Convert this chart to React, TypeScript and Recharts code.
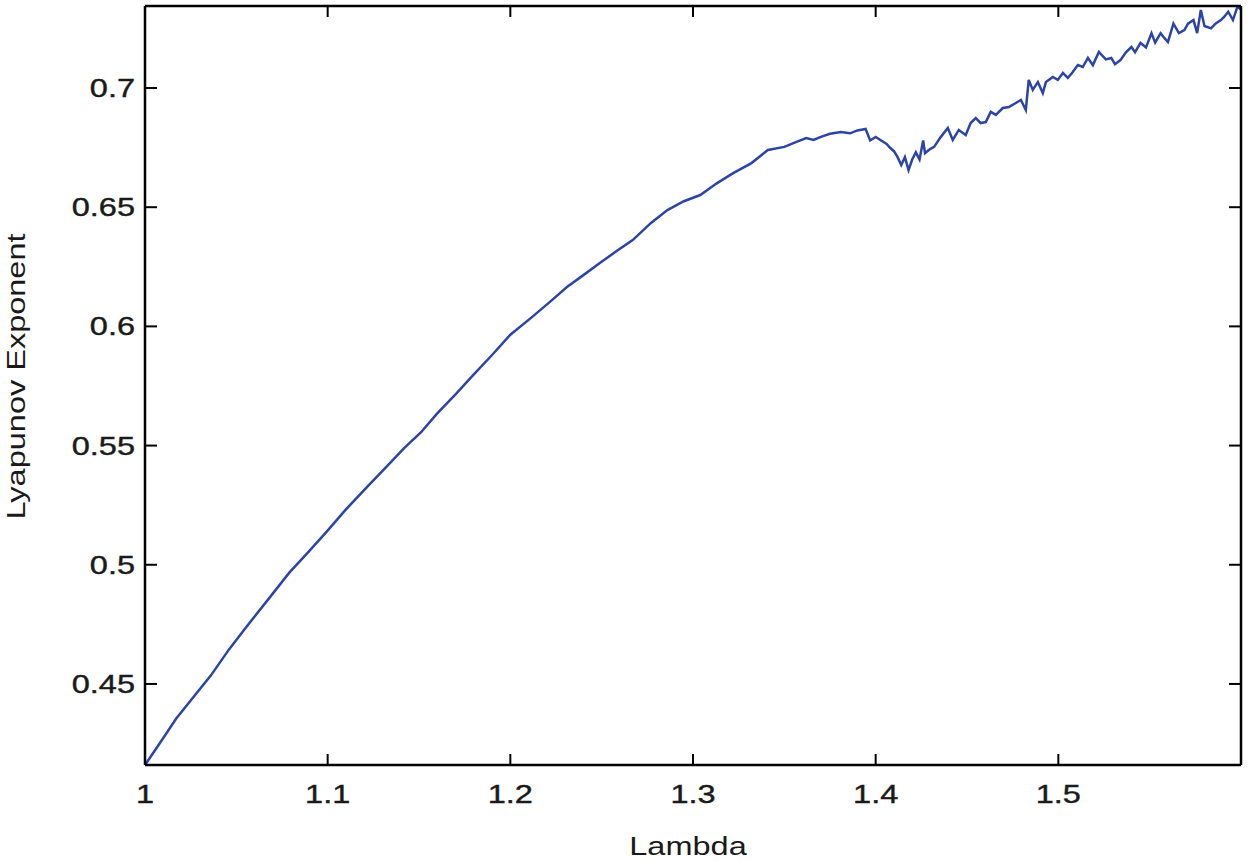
import React from "react";
import { LineChart, Line, XAxis, YAxis } from "recharts";

// lambda samples (x) and the measured Lyapunov exponent (y)
const lambdaValues = [
  1.0, 1.008, 1.017, 1.026, 1.036, 1.046, 1.056, 1.068, 1.079, 1.089,
  1.099, 1.11, 1.122, 1.132, 1.142, 1.151, 1.16, 1.17, 1.179, 1.19,
  1.2, 1.212, 1.222, 1.231, 1.24, 1.249, 1.258, 1.267, 1.277, 1.286,
  1.295, 1.304, 1.313, 1.322, 1.332, 1.341, 1.35, 1.357, 1.362, 1.366,
  1.37, 1.375, 1.381, 1.386, 1.39, 1.3945, 1.397, 1.4, 1.403, 1.406,
  1.408, 1.41, 1.412, 1.414, 1.416, 1.418, 1.42, 1.422, 1.424, 1.426,
  1.427, 1.43, 1.432,
  1.4356, 1.4395, 1.4422, 1.4455, 1.4493, 1.452, 1.4548, 1.4575, 1.4603, 1.463,
  1.4658, 1.4696, 1.4729, 1.4767, 1.4795, 1.4822, 1.4838, 1.486, 1.4888, 1.4915,
  1.4932, 1.497, 1.4997, 1.5025, 1.5052, 1.5079, 1.5107, 1.5134, 1.5162, 1.5189,
  1.5222,
  1.526, 1.529, 1.531, 1.534, 1.537, 1.54, 1.542, 1.545, 1.548,
  1.551, 1.553, 1.556, 1.558, 1.56, 1.563, 1.566, 1.569, 1.571, 1.574,
  1.576, 1.578, 1.58, 1.5836, 1.586, 1.589, 1.591, 1.593, 1.5956, 1.598, 1.6,
];

const lyapunovValues = [
  0.416, 0.425, 0.4354, 0.444, 0.4535, 0.4645, 0.4744, 0.486, 0.4967, 0.505,
  0.5135, 0.5232, 0.533, 0.541, 0.549, 0.5555, 0.5635, 0.5715, 0.579, 0.588,
  0.5965, 0.604, 0.6105, 0.6165, 0.6215, 0.6266, 0.6315, 0.6362, 0.6434, 0.6488,
  0.6525, 0.6551, 0.66, 0.6643, 0.6685, 0.674, 0.6753, 0.6775, 0.679, 0.6782,
  0.6795, 0.6808, 0.6815, 0.681, 0.6822, 0.6828, 0.678, 0.6795, 0.678, 0.6765,
  0.6748, 0.6735, 0.671, 0.6677, 0.671, 0.6656, 0.67, 0.673, 0.67, 0.678,
  0.6727, 0.6745, 0.6753,
  0.6794, 0.6832, 0.6782, 0.6824, 0.6803, 0.6853, 0.6874, 0.6853, 0.6857, 0.69,
  0.6887, 0.6916, 0.692, 0.6937, 0.695, 0.6908, 0.7034, 0.6992, 0.7025, 0.6979,
  0.7025, 0.7046, 0.7034, 0.7063, 0.7042, 0.7067, 0.7096, 0.7088, 0.7126, 0.7096,
  0.7151,
  0.712, 0.7126, 0.71, 0.7117, 0.715, 0.7172, 0.715, 0.7189, 0.717,
  0.723, 0.719, 0.723, 0.721, 0.7193, 0.727, 0.723, 0.7243, 0.727, 0.7285,
  0.723, 0.7327, 0.726, 0.725, 0.727, 0.7285, 0.73, 0.732, 0.7285, 0.734, 0.733,
];

const xTicks = [1, 1.1, 1.2, 1.3, 1.4, 1.5];
const yTicks = [0.45, 0.5, 0.55, 0.6, 0.65, 0.7];

const data = lambdaValues.map((lambda, i) => ({
  lambda,
  value: lyapunovValues[i],
}));

const X_DOMAIN = [1, 1.6];
const Y_DOMAIN = [0.416, 0.7344];

const FONT = '"Liberation Sans", Arial, sans-serif';
const TEXT = "#1a1a1a";
const STRETCH = "scale(1.3,1)";

function BottomTick({ x, y, payload }: any) {
  return (
    <text
      transform={`translate(${x},${y + 38}) ${STRETCH}`}
      textAnchor="middle"
      fontSize={25}
      fontFamily={FONT}
      fill={TEXT}
      stroke={TEXT}
      strokeWidth={0.4}
    >
      {String(payload.value)}
    </text>
  );
}

function LeftTick({ x, y, payload }: any) {
  return (
    <text
      transform={`translate(${x - 10},${y + 9}) ${STRETCH}`}
      textAnchor="end"
      fontSize={25}
      fontFamily={FONT}
      fill={TEXT}
      stroke={TEXT}
      strokeWidth={0.4}
    >
      {String(payload.value)}
    </text>
  );
}

// mirrored axes only carry the inward tick marks
const NoLabel = () => <g />;

const xTitle = (props: any) => {
  const vb = props.viewBox;
  return (
    <text
      transform={`translate(${vb.x + vb.width / 2 - 5},${vb.y + 90}) ${STRETCH}`}
      textAnchor="middle"
      fontSize={25}
      fontFamily={FONT}
      fill={TEXT}
    >
      Lambda
    </text>
  );
};

const yTitle = (props: any) => {
  const vb = props.viewBox;
  return (
    <text
      transform={`translate(${vb.x + 25},${vb.y + vb.height / 2 - 9}) rotate(-90) ${STRETCH}`}
      textAnchor="middle"
      fontSize={25}
      fontFamily={FONT}
      fill={TEXT}
    >
      Lyapunov Exponent
    </text>
  );
};

const frame = { stroke: "#000", strokeWidth: 2.5 };
const inward = { stroke: "#000", strokeWidth: 2 };

export default function App() {
  return (
    <div style={{ position: "absolute", left: 0, top: 0, background: "#fff" }}>
      <LineChart
        width={1251}
        height={861}
        data={data}
        margin={{ top: 6, right: 10, bottom: 0, left: 0 }}
      >
        <XAxis
          dataKey="lambda"
          type="number"
          domain={X_DOMAIN}
          ticks={xTicks}
          allowDataOverflow
          height={96}
          tickSize={0}
          tickMargin={0}
          tickLine={false}
          tick={<BottomTick />}
          axisLine={frame}
          label={xTitle}
        />
        <XAxis
          xAxisId="bottomMarks"
          dataKey="lambda"
          orientation="bottom"
          type="number"
          domain={X_DOMAIN}
          ticks={xTicks}
          allowDataOverflow
          mirror
          stroke="#000"
          tick={<NoLabel />}
          tickSize={11}
          tickLine={inward}
          axisLine={false}
        />
        <XAxis
          xAxisId="top"
          dataKey="lambda"
          orientation="top"
          type="number"
          domain={X_DOMAIN}
          ticks={xTicks}
          allowDataOverflow
          mirror
          stroke="#000"
          tick={<NoLabel />}
          tickSize={11}
          tickLine={inward}
          axisLine={frame}
        />
        <YAxis
          type="number"
          domain={Y_DOMAIN}
          ticks={yTicks}
          allowDataOverflow
          width={145}
          tickSize={0}
          tickMargin={0}
          tickLine={false}
          tick={<LeftTick />}
          axisLine={frame}
          label={yTitle}
        />
        <YAxis
          yAxisId="leftMarks"
          orientation="left"
          type="number"
          domain={Y_DOMAIN}
          ticks={yTicks}
          allowDataOverflow
          mirror
          stroke="#000"
          tick={<NoLabel />}
          tickSize={12}
          tickLine={inward}
          axisLine={false}
        />
        <YAxis
          yAxisId="right"
          orientation="right"
          type="number"
          domain={Y_DOMAIN}
          ticks={yTicks}
          allowDataOverflow
          mirror
          stroke="#000"
          tick={<NoLabel />}
          tickSize={12}
          tickLine={inward}
          axisLine={frame}
        />
        <Line
          type="linear"
          dataKey="value"
          stroke="#2D44A3"
          strokeWidth={2.5}
          dot={false}
          isAnimationActive={false}
        />
      </LineChart>
    </div>
  );
}
